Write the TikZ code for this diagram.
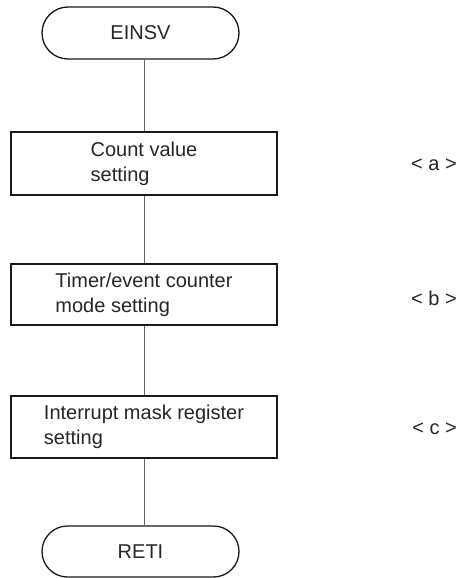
\documentclass[tikz,border=0pt]{standalone}
\usepackage{fontspec}
\setmainfont{Liberation Sans}
\usetikzlibrary{shapes.misc}
\begin{document}
\begin{tikzpicture}[x=1pt,y=-1pt,
  every node/.style={font=\fontsize{20}{25}\selectfont, text=black!85},
  term/.style={draw=black!90, line width=1.3pt, rounded rectangle, minimum width=197pt, minimum height=52pt, inner sep=0pt},
  procbox/.style={draw=black!90, line width=1.3pt, rectangle, minimum width=266pt, minimum height=62pt, inner sep=0pt, align=left},
  conn/.style={draw=black!60, line width=0.9pt},
  lab/.style={anchor=east, inner sep=0pt}]
\useasboundingbox (0,0) rectangle (461,578);
\node[term] (start) at (140.5,33) {EINSV};
\node[procbox, minimum height=63pt] (b1) at (144,163.5) {Count value\\setting};
\node[procbox, minimum height=61pt] (b2) at (144,294.5) {Timer/event counter\\mode setting};
\node[procbox] (b3) at (144,427) {Interrupt mask register\\setting};
\node[term, minimum height=51pt] (stop) at (140.5,551.5) {RETI};
\node[lab] (la) at (457,165) {< a >};
\node[lab] (lb) at (457,298) {< b >};
\node[lab] (lc) at (457,429) {< c >};
\draw[conn] (b1.north |- start.south) -- (b1.north);
\draw[conn] (b1.south) -- (b2.north);
\draw[conn] (b2.south) -- (b3.north);
\draw[conn] (b3.south) -- (b3.south |- stop.north);
\end{tikzpicture}
\end{document}
